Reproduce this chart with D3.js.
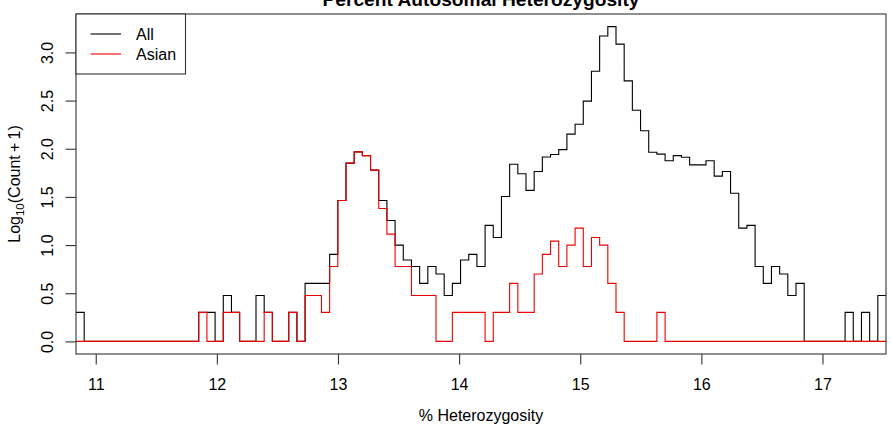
<!DOCTYPE html>
<html>
<head>
<meta charset="utf-8">
<script src="https://cdn.jsdelivr.net/npm/d3@7"></script>
<style>
  body { margin: 0; background: #fff; }
  text { font-family: "Liberation Sans", Arial, sans-serif; fill: #000; }
</style>
</head>
<body>
<div id="wrapper"></div>
<script>
// histogram bins (log10(count + 1)), 99 equal bins
const binStart = 10.837;
const binWidth = 0.06755;

const allValues = [
  0.301, 0, 0, 0, 0, 0, 0, 0, 0, 0,
  0, 0, 0, 0, 0, 0.301, 0.301, 0, 0.477, 0.301,
  0, 0, 0.477, 0.301, 0, 0, 0.301, 0, 0.602, 0.602,
  0.602, 0.903, 1.462, 1.851, 1.968, 1.929, 1.778, 1.462, 1.255, 1.0,
  0.845, 0.778, 0.602, 0.778, 0.699, 0.477, 0.602, 0.845, 0.903, 0.778,
  1.204, 1.079, 1.505, 1.839, 1.740, 1.568, 1.763, 1.914, 1.940, 1.991,
  2.152, 2.255, 2.494, 2.804, 3.170, 3.268, 3.086, 2.705, 2.400, 2.187,
  1.964, 1.944, 1.875, 1.929, 1.911, 1.833, 1.833, 1.875, 1.716, 1.763,
  1.538, 1.176, 1.204, 0.778, 0.602, 0.778, 0.699, 0.477, 0.602, 0,
  0, 0, 0, 0, 0.301, 0, 0.301, 0, 0.477,
];

const asianValues = [
  0, 0, 0, 0, 0, 0, 0, 0, 0, 0,
  0, 0, 0, 0, 0, 0.301, 0, 0, 0.301, 0.301,
  0, 0, 0, 0.301, 0, 0, 0.301, 0, 0.477, 0.477,
  0.301, 0.778, 1.462, 1.851, 1.968, 1.929, 1.778, 1.380, 1.114, 0.778,
  0.778, 0.477, 0.477, 0.477, 0, 0, 0.301, 0.301, 0.301, 0.301,
  0, 0.301, 0.301, 0.602, 0.301, 0.301, 0.699, 0.903, 1.041, 0.778,
  1.0, 1.176, 0.778, 1.079, 1.0, 0.602, 0.301, 0, 0, 0,
  0, 0.301, 0, 0, 0, 0, 0, 0, 0, 0,
  0, 0, 0, 0, 0, 0, 0, 0, 0, 0,
  0, 0, 0, 0, 0, 0, 0, 0, 0,
];

const xTicks = [11, 12, 13, 14, 15, 16, 17];
const yTicks = [0, 0.5, 1, 1.5, 2, 2.5, 3];
const seriesNames = ["All", "Asian"];
const seriesColors = ["#000000", "#ee0000"];

function drawChart() {
  const dimensions = {
    width: 892,
    height: 426,
    margin: { top: 14, right: 6, bottom: 72, left: 76 },
  };
  dimensions.plotWidth =
    dimensions.width - dimensions.margin.left - dimensions.margin.right;
  dimensions.plotHeight =
    dimensions.height - dimensions.margin.top - dimensions.margin.bottom;

  const chart = d3
    .select("#wrapper")
    .append("svg")
    .attr("width", dimensions.width)
    .attr("height", dimensions.height);

  const plot = chart
    .append("g")
    .attr(
      "transform",
      `translate(${dimensions.margin.left}, ${dimensions.margin.top})`
    );

  // scales
  const xScale = d3
    .scaleLinear()
    .domain([binStart, binStart + binWidth * allValues.length])
    .range([0, dimensions.plotWidth]);

  const yMax = d3.max(allValues);
  const yPad = yMax * 0.04;
  const yScale = d3
    .scaleLinear()
    .domain([-yPad, yMax + yPad])
    .range([dimensions.plotHeight, 0]);

  plot
    .append("clipPath")
    .attr("id", "clip")
    .append("rect")
    .attr("width", dimensions.plotWidth)
    .attr("height", dimensions.plotHeight);

  // step outlines
  const toSteps = (values) =>
    values
      .map((v, i) => ({ x: binStart + i * binWidth, y: v }))
      .concat([
        {
          x: binStart + values.length * binWidth,
          y: values[values.length - 1],
        },
      ]);

  const stepLine = d3
    .line()
    .x((d) => xScale(d.x))
    .y((d) => yScale(d.y))
    .curve(d3.curveStepAfter);

  [allValues, asianValues].forEach((values, i) => {
    plot
      .append("path")
      .attr("clip-path", "url(#clip)")
      .attr("d", stepLine(toSteps(values)))
      .attr("fill", "none")
      .attr("stroke", seriesColors[i])
      .attr("stroke-width", 1.1);
  });

  // box
  plot
    .append("rect")
    .attr("width", dimensions.plotWidth)
    .attr("height", dimensions.plotHeight)
    .attr("fill", "none")
    .attr("stroke", "#333")
    .attr("stroke-width", 1.1);

  // x axis
  const xAxis = plot
    .append("g")
    .attr("transform", `translate(0, ${dimensions.plotHeight})`)
    .call(
      d3
        .axisBottom(xScale)
        .tickValues(xTicks)
        .tickFormat(d3.format("d"))
        .tickSize(10.5)
        .tickPadding(14)
        .tickSizeOuter(0)
    );
  xAxis.select(".domain").remove();
  xAxis.selectAll("line").attr("stroke", "#333").attr("stroke-width", 1.1);
  xAxis
    .selectAll("text")
    .style("font-size", "16px")
    .style("font-family", '"Liberation Sans", Arial, sans-serif')
    .attr("fill", "#000");

  // y axis, labels parallel to the axis
  const yAxis = plot
    .append("g")
    .call(
      d3
        .axisLeft(yScale)
        .tickValues(yTicks)
        .tickSize(10.5)
        .tickFormat(d3.format(".1f"))
        .tickSizeOuter(0)
    );
  yAxis.select(".domain").remove();
  yAxis.selectAll("line").attr("stroke", "#333").attr("stroke-width", 1.1);
  yAxis
    .selectAll("text")
    .attr("x", null)
    .attr("dy", null)
    .attr("transform", "translate(-23.5, 0) rotate(-90)")
    .attr("text-anchor", "middle")
    .style("font-size", "16px")
    .style("font-family", '"Liberation Sans", Arial, sans-serif')
    .attr("fill", "#000");

  // title (sits partly above the top edge, as in the source image)
  chart
    .append("text")
    .attr("x", dimensions.margin.left + dimensions.plotWidth / 2)
    .attr("y", 6)
    .attr("text-anchor", "middle")
    .style("font-size", "19.2px")
    .style("font-weight", "bold")
    .text("Percent Autosomal Heterozygosity");

  // axis titles
  chart
    .append("text")
    .attr("x", dimensions.margin.left + dimensions.plotWidth / 2)
    .attr("y", 421)
    .attr("text-anchor", "middle")
    .style("font-size", "16px")
    .text("% Heterozygosity");

  const yLabel = chart
    .append("text")
    .attr(
      "transform",
      `translate(20, ${dimensions.margin.top + dimensions.plotHeight / 2}) rotate(-90)`
    )
    .attr("text-anchor", "middle")
    .style("font-size", "16px");
  yLabel.append("tspan").text("Log");
  yLabel
    .append("tspan")
    .attr("dy", 4)
    .style("font-size", "11.5px")
    .text("10");
  yLabel.append("tspan").attr("dy", -4).text("(Count\u2009+\u20091)");

  // legend
  const legend = plot.append("g");
  legend
    .append("rect")
    .attr("width", 109.5)
    .attr("height", 60)
    .attr("fill", "#fff")
    .attr("stroke", "#333")
    .attr("stroke-width", 1.1);

  const legendItems = legend
    .selectAll(".legend-item")
    .data(seriesNames)
    .enter()
    .append("g")
    .attr("class", "legend-item")
    .attr("transform", (d, i) => `translate(0, ${20 + i * 20})`);

  legendItems
    .append("line")
    .attr("x1", 14.5)
    .attr("x2", 45)
    .attr("stroke", (d, i) => seriesColors[i])
    .attr("stroke-width", 1.1);

  legendItems
    .append("text")
    .attr("x", 60)
    .attr("y", 6)
    .style("font-size", "16px")
    .text((d) => d);
}
drawChart();
</script>
</body>
</html>
